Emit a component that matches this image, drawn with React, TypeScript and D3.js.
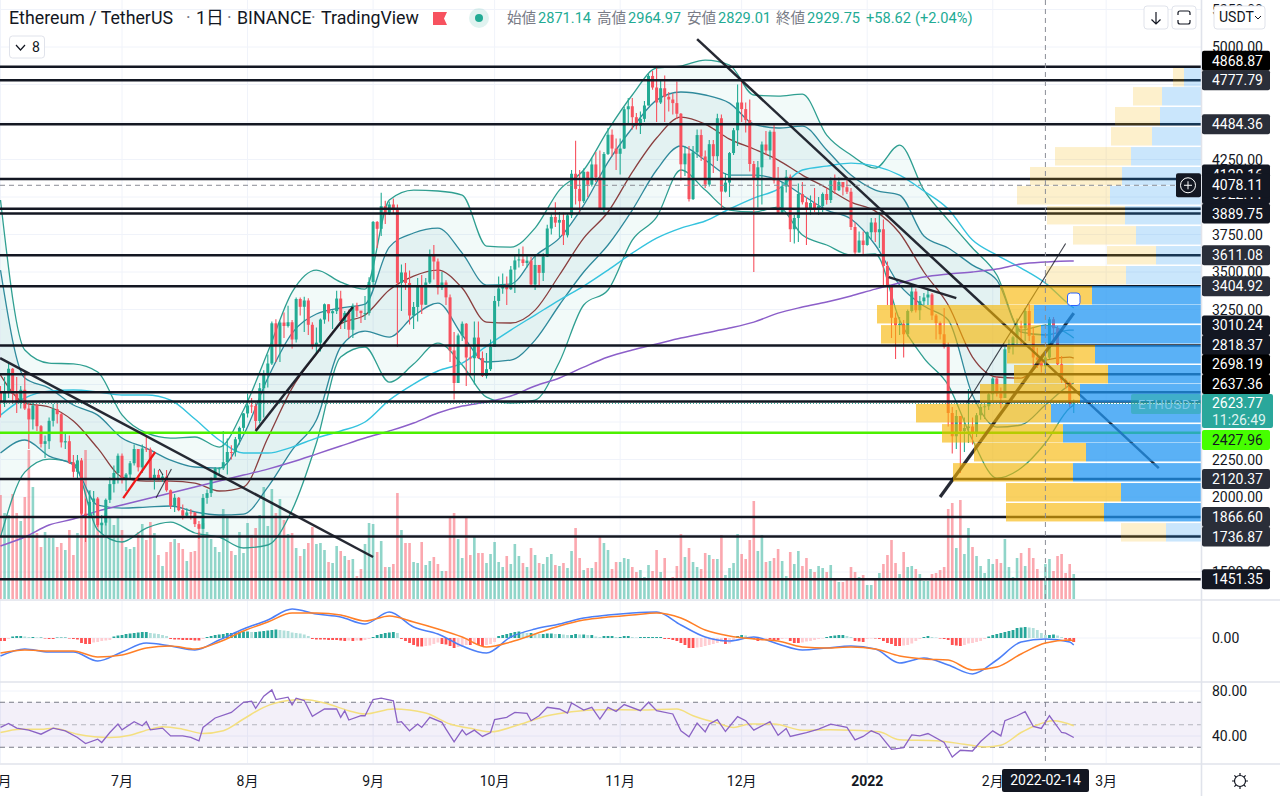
import React from 'react';
import * as d3 from 'd3';

// daily candles, 2021-06-01 .. 2022-02-21
const firstOpen = 2707;
const closes = [
  2634,2706,2855,2688,2630,2715,2590,2517,2610,2472,2354,2372,2508,2586,2552,2364,2372,2231,2168,2244,1889,1875,1968,1990,1812,1829,1981,2086,2160,2275,
  2113,2150,2225,2320,2198,2323,2317,2117,2148,2127,2136,2045,1941,1995,1912,1876,1897,1896,1819,1788,1994,2026,2123,2191,2191,2232,2300,2299,2385,2461,2557,
  2610,2607,2507,2725,2827,2890,3158,3012,3163,3140,3165,3050,3320,3268,3310,3148,3013,3029,3183,3285,3225,3239,3323,3172,3227,3115,3275,3242,3226,3226,3433,
  3834,3788,3939,3886,3950,3927,3427,3497,3427,3210,3267,3408,3282,3430,3613,3570,3395,3430,3331,2977,2760,3077,3155,2930,2925,3063,2926,2807,2852,3001,
  3307,3390,3417,3385,3516,3577,3584,3560,3576,3417,3547,3494,3603,3790,3867,3829,3847,3745,3878,4155,4054,3972,4168,4082,4217,4131,3925,4287,4415,4323,4288,
  4323,4585,4605,4532,4475,4521,4610,4807,4730,4630,4725,4668,4650,4626,4555,4218,4290,3986,4298,4413,4270,4083,4352,4272,4525,4036,4096,4293,4445,4630,
  4586,4513,4220,4120,4198,4350,4310,4435,4110,3895,4070,4135,3785,3860,4020,3965,3925,3960,3925,3940,4020,3980,4110,4045,4100,4065,4035,3800,3630,3710,3680,
  3765,3830,3765,3785,3540,3410,3195,3145,3155,3085,3240,3370,3245,3305,3330,3350,3210,3160,3085,3000,2560,2405,2540,2440,2460,2470,2425,2545,2600,2605,2685,
  2790,2690,2660,2985,3010,3065,3140,3125,3240,3075,2930,2915,2871.14,2929.75,3185,3125,2885,2780,2760,2620,2623.77,
];
const highs = [
  2740,2800,2890,2860,2800,2740,2840,2620,2630,2620,2480,2410,2530,2620,2630,2560,2420,2410,2280,2280,2260,1990,2040,2040,2000,1880,1990,2130,2210,2290,
  2290,2160,2240,2350,2320,2350,2410,2330,2190,2180,2155,2180,2050,2020,2000,1950,1925,1920,1900,1840,2020,2050,2130,2200,2200,2440,2390,2345,2400,2470,2560,
  2690,2660,2630,2760,2845,2950,3170,3185,3175,3230,3275,3180,3330,3330,3335,3325,3165,3130,3190,3290,3280,3245,3375,3375,3240,3250,3290,3295,3240,3340,3465,
  3840,3840,4028,3975,3970,3990,3950,3550,3560,3510,3300,3460,3480,3460,3650,3680,3590,3500,3445,3350,3100,3090,3170,3160,3000,3170,3170,2970,2960,3050,
  3340,3470,3490,3470,3540,3620,3655,3670,3620,3600,3620,3545,3625,3815,3895,3965,3900,3895,3890,4180,4375,4180,4190,4170,4260,4300,4310,4300,4460,4450,4390,
  4390,4600,4660,4660,4560,4570,4640,4820,4840,4868,4780,4810,4700,4690,4770,4560,4340,4340,4340,4450,4450,4310,4380,4380,4555,4550,4160,4300,4460,4750,
  4780,4630,4650,4240,4240,4370,4440,4445,4490,4200,4100,4180,4150,3880,4090,4100,4000,4010,4060,4000,4030,4060,4130,4150,4130,4100,4130,4060,3830,3770,3770,
  3770,3860,3860,3900,3850,3570,3410,3230,3200,3180,3250,3410,3390,3340,3360,3380,3360,3220,3170,3260,3030,2600,2580,2520,2530,2720,2530,2560,2620,2620,2700,
  2800,2805,2730,3000,3050,3075,3190,3175,3260,3285,3135,2995,2950,2964.97,3200,3200,3140,2940,2790,2770,2650,
];
const lows = [
  2530,2600,2660,2620,2560,2590,2580,2320,2450,2440,2330,2260,2320,2470,2490,2330,2320,2220,2130,2120,1880,1700,1860,1880,1800,1760,1810,1960,2030,2090,
  2090,2040,2120,2210,2170,2160,2300,2110,2050,2110,2100,2035,1920,1900,1905,1850,1860,1850,1800,1720,1790,1955,2000,2120,2145,2180,2150,2250,2270,2350,2440,
  2530,2560,2450,2490,2530,2730,2880,2900,2900,3060,3130,2990,3030,3210,3100,3080,2985,2955,2970,3155,3170,3120,3220,3120,3120,3060,3060,3200,3160,3180,3210,
  3385,3660,3740,3820,3880,3890,3000,3240,3380,3150,3120,3170,3220,3280,3420,3450,3350,3380,3280,2900,2650,2760,3040,2740,2820,2750,2920,2800,2790,2840,
  3000,3270,3355,3280,3380,3360,3530,3540,3530,3410,3380,3400,3440,3600,3750,3800,3730,3680,3730,3860,3950,3890,3960,4000,4070,4100,3915,3900,4280,4270,4180,
  4150,4320,4480,4450,4450,4420,4500,4610,4715,4500,4620,4500,4570,4550,4520,4110,4140,3970,3980,4260,4240,4060,4070,4160,4240,3920,4030,4000,4280,4340,
  4500,4430,4170,3500,3930,3950,4280,4250,4090,3890,3910,4030,3700,3690,3700,3950,3680,3880,3900,3880,3900,3950,3960,4020,4040,4010,4020,3780,3610,3630,3620,
  3675,3720,3700,3660,3410,3280,3060,2920,3080,2930,3070,3230,3230,3180,3280,3280,3180,3050,3050,2990,2470,2290,2320,2160,2300,2360,2350,2400,2515,2520,2580,
  2640,2670,2590,2660,2960,2950,3020,3020,3040,3040,2860,2860,2830,2829.01,2920,3050,2880,2760,2720,2600,2560,
];
const volumes = [
  104,86,84,105,86,78,102,149,112,66,52,67,61,61,52,56,49,69,44,66,92,149,109,99,95,76,86,81,74,81,
  69,52,50,52,67,75,59,77,66,44,33,47,57,60,56,50,38,47,48,67,76,67,60,52,47,90,81,48,44,67,46,
  76,64,71,84,112,73,110,86,100,79,65,66,51,43,50,56,72,55,56,49,37,36,53,48,43,39,40,23,30,55,76,
  75,47,58,32,32,35,106,69,56,56,37,36,57,34,38,42,35,28,28,81,86,60,41,82,44,62,46,46,36,45,
  57,37,32,43,35,55,43,36,32,51,44,36,35,42,45,34,33,36,31,48,71,41,29,31,31,37,62,56,49,30,37,
  37,41,40,32,27,29,22,34,28,49,27,41,20,22,33,65,42,51,37,32,30,46,44,40,40,64,24,31,36,65,
  45,40,59,98,48,64,37,38,41,50,38,23,47,35,48,33,41,30,27,33,31,27,34,21,17,17,20,32,27,22,24,
  14,14,21,26,35,44,59,36,25,47,32,33,30,25,18,18,25,26,29,32,90,96,51,99,45,71,52,43,33,26,40,
  35,40,36,60,32,22,41,46,33,51,41,30,20,35,40,28,43,45,26,35,25,
];

// sampled every 6 days for the smooth overlays
const lineDays = [0,6,12,18,24,30,36,42,48,54,60,66,72,78,84,90,96,102,108,114,120,126,132,138,144,150,156,162,168,174,180,186,192,198,204,210,216,222,228,234,240,246,252,258,264,265];
const bbOuterUpper = [3980,2980,2893,2887,2833,2547,2427,2393,2400,2333,2580,2967,3366,3513,3433,3386,3980,4046,4040,4013,3673,3666,3793,4046,4180,4446,4680,4860,4873,4913,4880,4680,4673,4686,4413,4280,4193,4346,4046,3846,3660,3480,3113,3146,3080,3060];
const bbInnerUpper = [3513,2793,2726,2613,2546,2393,2326,2246,2200,2193,2413,2793,3093,3220,3260,3286,3666,3760,3793,3626,3413,3420,3606,3726,3946,4233,4460,4646,4700,4680,4626,4486,4460,4473,4313,4146,4046,4013,3740,3660,3546,3446,3100,3080,3113,3113];
const bbMiddle = [2813,2626,2600,2506,2326,2133,2106,2106,2093,2040,2066,2393,2726,2953,3153,3213,3380,3473,3513,3393,3166,3160,3246,3480,3726,3900,4166,4393,4533,4486,4386,4320,4246,4146,4060,3966,3906,3760,3500,3280,2933,2800,2793,2913,2933,2926];
const bbInnerLower = [2293,2380,2273,2213,1946,1926,1933,1940,1900,1880,1886,2066,2313,2513,3000,3106,3066,3206,3293,3080,2900,2913,3046,3280,3500,3680,3913,4180,4340,4246,4146,4146,4113,4013,3913,3853,3680,3413,3273,3180,2680,2466,2480,2613,2746,2760];
const bbOuterLower = [1733,2166,2253,2226,1780,1700,1793,1833,1760,1733,1660,1680,1913,2360,2933,3000,2766,2886,3026,2880,2666,2626,2646,2900,3280,3380,3713,3866,4180,4046,3913,3900,3933,3746,3680,3613,3620,3180,2926,2746,2380,2126,2193,2360,2593,2613];
const ma100 = [2546,2660,2706,2713,2700,2680,2680,2646,2520,2380,2293,2293,2333,2393,2440,2500,2646,2753,2840,2893,3006,3113,3213,3313,3406,3513,3626,3726,3793,3840,3920,3993,4053,4180,4206,4226,4206,4146,4040,3920,3713,3613,3526,3426,3280,3260];
const ma200 = [1673,1733,1813,1853,1906,1946,1986,2026,2066,2106,2146,2186,2233,2286,2340,2393,2440,2493,2560,2606,2633,2673,2740,2793,2866,2933,2980,3020,3060,3093,3126,3166,3226,3266,3300,3340,3386,3426,3466,3486,3500,3520,3553,3566,3573,3573];
const macdLine = [-144,-88,-112,-112,-184,-112,-40,-64,-96,-16,72,144,232,192,168,112,208,88,32,-64,-120,8,72,112,160,184,200,208,104,8,-24,8,-48,-96,-80,-64,-88,-200,-160,-216,-288,-176,-32,-8,-32,-56];
const macdSignal = [-120,-96,-104,-104,-152,-136,-80,-64,-88,-32,56,128,200,200,184,136,176,128,72,8,-72,-32,32,96,144,168,184,200,160,64,16,-8,-24,-72,-80,-72,-88,-144,-168,-176,-256,-232,-128,-40,-16,-24];

// histogram, one bar a day, in units of 8 USDT
const HIST_UNIT = 8;
const macdHist = [
  -3,-3,-1,1.5,2,2,1.5,1,1,0.5,0.5,-0.5,-1,-1,0.5,0.5,0.5,-0.5,-1,-1.5,-5,-6,-6,-4.5,-4,-3,-2.5,-2,1.5,2.5,
  3,4,4.5,5,5.5,6,6,5,4.5,4,3,2,-1,-1.5,-1.5,-2,-2,-2,-2.5,-2.5,-1,1,2,3,3.5,4,5,5,5.5,6,6.5,
  6.5,6,6,6.5,7,7.5,8,8.5,8,7.5,7,5.5,5,4.5,3.5,2,-1,-1.5,-1.5,-1.5,-2,-2,-2,-2.5,-3,-2.5,-3,-2.5,-2.5,-2,-1,
  1,3,4,5,5.5,6,5,-1,-3,-5,-7,-8.5,-8.5,-8,-7.5,-6,-4.5,-6,-6.5,-8,-10,-9,-8,-7,-7,-6,-7,-8,-7,-6,
  -4,2,3,4,5,6,6.5,6,5,5,4.5,4,4,4.5,4.5,4,4,3.5,3,3,4,3.5,3.5,3,3,1.5,1,2,2,2,1,
  1,2,2,1,0.5,1,1,1,1,1,1,-1,-1,-2,-3,-5,-7,-10,-10,-9.5,-9,-8,-7,-6,-5,-4,-6,-5.5,-3,2,
  3,2.5,1,-1,-3,-2.5,-1.5,-1.5,-2,-2,-1,-0.5,-3,-5,-5,-4.5,-3.5,-3,-2,-1,-0.5,1,2,2.5,3,3,2,1,-3,-3.5,-4,
  -1,-0.5,-0.5,-1,-3,-5,-6,-8,-8,-7.5,-7,-5.5,-3,-1,1,2,1,0.5,-0.5,-1,-2,-7,-7.5,-8,-7,-5.5,-5,-4,-3,-1,1.5,
  3,4,5,6,7,8,10,10.5,11,10.5,10,8,5,3,3,3.5,2.5,1,-1.5,-3,-4,
];

// RSI and its average, read at the turning points
const rsiDays = [0,2,4,7,10,13,16,19,21,24,25,27,29,30,33,35,36,37,40,42,45,47,49,50,53,57,60,62,63,65,67,68,71,72,73,75,77,80,83,84,85,86,89,90,92,94,97,98,99,101,103,104,106,109,110,112,114,115,117,119,121,122,125,127,130,131,133,135,138,140,141,144,146,148,150,152,154,158,160,162,166,168,170,172,174,175,177,179,182,184,186,190,192,194,195,199,202,205,209,211,213,215,217,220,223,225,227,229,233,235,237,240,242,245,247,248,251,253,255,257,259,262,263,265];
const rsiValues = [47.6,51.2,47,45.2,41.6,47,44.6,38.7,33.3,37.2,34.2,43.1,50.6,45.5,52.7,49.1,52.7,45.5,47,40.1,40.1,38.7,35.7,47.6,56,61,70,70.9,64.6,75.4,81,72.4,74.5,67.6,73.6,71.5,57.5,64,64,56.6,62.5,54.2,58,58,72.4,73.6,71.2,52.1,52.7,44.6,50.6,47.6,56.6,52.1,46.1,34.8,45.5,41,45.2,39.6,43.1,54.5,56.6,61,60.1,53.6,58,65.5,64,60.4,69.4,63.1,65.5,55.1,65.5,61.9,67.9,62.5,70,62.5,59.6,44.6,39.3,51.5,43.7,50.6,54.5,44,57.2,53.6,45.2,52.7,40.7,46.7,39.6,43.1,46.1,50.6,47.6,36.6,39.6,44.6,41.6,28.2,29.7,41,40.1,42.2,34.2,21.3,27.3,26.7,35.1,44.6,40.1,53.6,58,61.6,48.5,46.7,58,43.1,42.5,38.7];
const rsiMaDays = [0,5,10,13,19,27,32,37,40,45,50,55,60,65,71,75,80,86,90,97,105,111,117,121,128,135,141,148,158,167,171,177,181,185,191,198,205,210,217,222,231,238,243,247,252,255,260,265];
const rsiMaValues = [43.1,46.1,46.1,47,41.6,38.7,40.7,46.1,48.2,46.1,42.2,44.6,55.1,65.5,71.5,72.4,69.4,62.5,59.6,64,60.4,50.6,46.1,43.7,50,58,61.6,63.4,63.1,64,58,51.5,47.6,50.6,50.6,45.2,45.5,45.2,43.7,36.6,35.7,32.7,30.3,31.8,43.1,48.5,53.6,49.1];

// horizontal levels drawn by the author
const levels = [4868.87,4777.79,4484.36,4120.16,3922.11,3889.75,3611.08,3404.92,3010.24,2818.37,2698.19,2637.36,2120.37,1866.60,1736.87,1451.35];
const greenLevel = 2427.96;
const lastPrice = 2623.77;
const crossPrice = 4078.11;
const crossDay = 258;

const priceTicks = [5250,5000,4750,4500,4250,4000,3750,3500,3250,3000,2750,2500,2250,2000,1750,1500];
const coveredTicks = [4750,4500,4000,3000,2750,2500,1750];
const monthDays = [0,30,61,92,122,153,183,214,245,273];
const monthNames = ['6月','7月','8月','9月','10月','11月','12月','2022','2月','3月'];

// visible range volume rows
const vpTops = [4860,4733,4600,4466,4333,4200,4073,3940,3806,3673,3540,3406,3280,3146,3013,2880,2753,2620,2486,2360,2226,2093,1960,1826];
const vpDown = [11,29,45,41,76,92,93,78,63,49,80,92,157,160,88,94,100,135,121,112,120,115,98,45];
const vpUp = [17,39,41,49,70,79,91,76,65,45,75,109,167,160,106,93,121,150,138,115,128,80,97,35];
const VP_ROW = 123;
const vpSolid = (i: number) => i >= 11 && i <= 22;

// trend lines: [day, price, day, price]
const blackTrends = [
  [-0.1, 2926, 92, 1600],
  [172, 5053, 286, 2193],
  [63, 2440, 87, 3266],
  [232, 2000, 265, 3226],
  [219.3, 3466, 236, 3326],
];
const thinTrends = [
  [238.6, 2627, 263, 3690],
  [38.4, 1993, 42.2, 2187],
  [39.2, 2187, 40.1, 2147],
];
const redTrend = [30.3, 1993, 38.2, 2300];

const UP = '#22ab94';
const DOWN = '#f7525f';
const FONT = 'Roboto, "Noto Sans CJK JP", sans-serif';

const App: React.FC = () => {
  const chartRight = 1201;
  const x = d3.scaleLinear().domain([0, 265]).range([0.5, 1073.75]);
  const y = d3.scaleLinear().domain([1000, 5000]).range([647, 47]);
  const volY = d3.scaleLinear().domain([0, 150]).range([599, 449]);
  const macdY = d3.scaleLinear().domain([-300, 300]).range([675.5, 600.5]);
  const rsiY = d3.scaleLinear().domain([30, 80]).range([747.25, 691]);
  const vpX = d3.scaleLinear().domain([0, 330]).range([0, 330]);

  const opens = closes.map((_, i) => (i === 0 ? firstOpen : closes[i - 1]));

  const priceLine = (vals: number[]) =>
    d3.line<number>().x((_, i) => x(lineDays[i])).y(d => y(d)).curve(d3.curveMonotoneX)(vals) || '';
  const macdPath = (vals: number[]) =>
    d3.line<number>().x((_, i) => x(lineDays[i])).y(d => macdY(d)).curve(d3.curveMonotoneX)(vals) || '';
  const band = (top: number[], bottom: number[]) =>
    d3.area<number>().x((_, i) => x(lineDays[i])).y0((_, i) => y(bottom[i])).y1(d => y(d)).curve(d3.curveMonotoneX)(top) || '';
  const rsiPath = d3.line<number>().x((_, i) => x(rsiDays[i])).y(d => rsiY(d))(rsiValues) || '';
  const rsiMaPath = d3.line<number>().x((_, i) => x(rsiMaDays[i])).y(d => rsiY(d)).curve(d3.curveMonotoneX)(rsiMaValues) || '';

  // price labels get pushed apart around the live price box, the way the platform stacks them
  const labelY = new Map<number, number>();
  const LABEL_H = 19.5;
  let upper = y(lastPrice);
  levels.filter(l => l > lastPrice).sort(d3.ascending).forEach(l => {
    upper = Math.min(y(l), upper - LABEL_H);
    labelY.set(l, upper);
  });
  let lower = y(lastPrice) + 17;
  [greenLevel, ...levels.filter(l => l < lastPrice)].sort(d3.descending).forEach(l => {
    lower = Math.max(y(l), lower + LABEL_H);
    labelY.set(l, lower);
  });
  const lightLabels = new Set([4777.79, 4484.36, 3611.08, 3404.92, 2120.37, 1736.87, 1866.60]);
  const blackLabels = new Set([4868.87, 2698.19, 2637.36]);

  const histColor = (i: number) => {
    const v = macdHist[i];
    const prev = i ? macdHist[i - 1] : v;
    if (v >= 0) return prev <= v ? '#26a69a' : '#b2dfdb';
    return prev < v ? '#ffcdd2' : '#ff5252';
  };

  const trendLine = (t: number[], stroke: string, w: number, key: string, op = 1) => (
    <line key={key} x1={x(t[0])} y1={y(t[1])} x2={x(t[2])} y2={y(t[3])} stroke={stroke} strokeWidth={w} strokeOpacity={op} />
  );

  return (
    <svg width={1280} height={796} style={{ position: 'absolute', left: 0, top: 0, background: '#fff', fontFamily: FONT }}>
      {/* grid */}
      <g stroke="#f0f3fa" strokeWidth={1}>
        {monthDays.map(d => <line key={d} x1={x(d)} x2={x(d)} y1={0} y2={763} />)}
        {priceTicks.map(p => <line key={p} x1={0} x2={chartRight} y1={y(p)} y2={y(p)} />)}
        <line x1={0} x2={chartRight} y1={macdY(0)} y2={macdY(0)} />
        <line x1={0} x2={chartRight} y1={rsiY(80)} y2={rsiY(80)} />
        <line x1={0} x2={chartRight} y1={rsiY(40)} y2={rsiY(40)} />
      </g>

      {/* bollinger bands */}
      <path d={band(bbOuterUpper, bbOuterLower)} fill="#26a69a" fillOpacity={0.06} />
      <path d={band(bbInnerUpper, bbInnerLower)} fill="#2a8a9a" fillOpacity={0.07} />

      {/* volume */}
      <g fillOpacity={0.5}>
        {volumes.map((v, i) => (
          <rect key={i} x={x(i) - 1.3} width={2.6} y={volY(v)} height={volY(0) - volY(v)} fill={closes[i] >= opens[i] ? UP : DOWN} />
        ))}
      </g>

      <g fill="none">
        <path d={priceLine(bbOuterUpper)} stroke="#2f9f91" strokeWidth={1.3} />
        <path d={priceLine(bbOuterLower)} stroke="#2f9f91" strokeWidth={1.3} />
        <path d={priceLine(bbInnerUpper)} stroke="#2f8a9c" strokeWidth={1.3} />
        <path d={priceLine(bbInnerLower)} stroke="#2f8a9c" strokeWidth={1.3} />
        <path d={priceLine(bbMiddle)} stroke="#8a3f3f" strokeWidth={1.3} />
        <path d={priceLine(ma100)} stroke="#35c3de" strokeWidth={1.4} />
        <path d={priceLine(ma200)} stroke="#8c5fc9" strokeWidth={1.5} />
      </g>

      {/* candles */}
      {closes.map((c, i) => {
        const o = opens[i];
        const col = c >= o ? UP : DOWN;
        const top = y(Math.max(o, c));
        const bottom = y(Math.min(o, c));
        return (
          <g key={i} fill={col} stroke={col}>
            <line x1={x(i)} x2={x(i)} y1={y(Math.max(highs[i], o, c))} y2={y(Math.min(lows[i], o, c))} strokeWidth={1.1} />
            <rect x={x(i) - 1.5} width={3} y={top} height={Math.max(bottom - top, 1)} stroke="none" />
          </g>
        );
      })}

      {/* horizontal levels */}
      <g stroke="#131722" strokeWidth={2.5}>
        {levels.map(l => <line key={l} x1={0} x2={chartRight} y1={y(l)} y2={y(l)} />)}
      </g>
      <line x1={0} x2={chartRight} y1={y(greenLevel)} y2={y(greenLevel)} stroke="#4cf000" strokeWidth={2.6} />
      <line x1={0} x2={chartRight} y1={y(lastPrice)} y2={y(lastPrice)} stroke={UP} strokeWidth={1} strokeDasharray="1 2" />

      {/* trend lines */}
      {blackTrends.map((t, i) => trendLine(t, '#131722', i === 3 ? 3.2 : 2.5, 'b' + i, 0.92))}
      {thinTrends.map((t, i) => trendLine(t, '#131722', 1.1, 't' + i, 0.8))}
      {trendLine(redTrend, '#f01818', 2.2, 'red')}

      {/* volume profile */}
      {vpTops.map((top, i) => {
        const h = y(top - VP_ROW) - y(top);
        const upW = vpX(vpUp[i]);
        const downW = vpX(vpDown[i]);
        const solid = vpSolid(i);
        return (
          <g key={top}>
            <rect x={chartRight - upW} width={upW} y={y(top)} height={h} fill="#2196f3" fillOpacity={solid ? 0.74 : 0.24} />
            <rect x={chartRight - upW - downW} width={downW} y={y(top)} height={h} fill="#f7b500" fillOpacity={solid ? 0.62 : 0.2} />
          </g>
        );
      })}

      {/* crosshair */}
      <g stroke="#8a8d96" strokeWidth={1} strokeDasharray="5 4">
        <line x1={x(crossDay)} x2={x(crossDay)} y1={0} y2={764} />
        <line x1={0} x2={chartRight} y1={y(crossPrice)} y2={y(crossPrice)} />
      </g>

      {/* flag on the last bar */}
      <rect x={1067.5} y={293} width={12.5} height={12.5} rx={3} fill="#fff" stroke="#2962ff" strokeWidth={1} />

      {/* macd */}
      <g>
        {macdHist.map((v, i) => {
          const a = macdY(v * HIST_UNIT);
          const b = macdY(0);
          return <rect key={i} x={x(i) - 1.4} width={2.8} y={Math.min(a, b)} height={Math.abs(a - b)} fill={histColor(i)} />;
        })}
      </g>
      <path d={macdPath(macdLine)} fill="none" stroke="#4c7ff7" strokeWidth={1.5} />
      <path d={macdPath(macdSignal)} fill="none" stroke="#ff7f27" strokeWidth={1.5} />

      {/* rsi */}
      <rect x={0} y={rsiY(70)} width={chartRight} height={rsiY(30) - rsiY(70)} fill="#7e57c2" fillOpacity={0.09} />
      <g stroke="#787b86" strokeWidth={1} strokeDasharray="5 4">
        <line x1={0} x2={chartRight} y1={rsiY(70)} y2={rsiY(70)} />
        <line x1={0} x2={chartRight} y1={rsiY(50)} y2={rsiY(50)} strokeOpacity={0.5} />
        <line x1={0} x2={chartRight} y1={rsiY(30)} y2={rsiY(30)} />
      </g>
      <path d={rsiMaPath} fill="none" stroke="#f4df7f" strokeWidth={1.5} />
      <path d={rsiPath} fill="none" stroke="#8b63c5" strokeWidth={1.3} />

      {/* pane borders */}
      <g stroke="#e0e3eb" strokeWidth={1.6}>
        <line x1={0} x2={1280} y1={600} y2={600} />
        <line x1={0} x2={1280} y1={682} y2={682} />
        <line x1={0} x2={1280} y1={764} y2={764} />
        <line x1={chartRight + 0.5} x2={chartRight + 0.5} y1={0} y2={796} />
      </g>

      {/* price axis */}
      <g fontSize={14} fill="#131722">
        {priceTicks.filter(p => !coveredTicks.includes(p)).map(p => <text key={p} x={1212} y={y(p) + 5}>{d3.format('.2f')(p)}</text>)}
        <text x={1212} y={macdY(0) + 5}>0.00</text>
        <text x={1212} y={rsiY(80) + 5}>80.00</text>
        <text x={1212} y={rsiY(40) + 5}>40.00</text>
      </g>
      {levels.map(l => {
        const ly = labelY.get(l) as number;
        const fill = blackLabels.has(l) ? '#000' : lightLabels.has(l) ? '#2a2e39' : '#131722';
        return (
          <g key={l}>
            <rect x={1202} y={ly - 10} width={68} height={20} rx={2} fill={fill} />
            <text x={1212} y={ly + 5} fontSize={14} fill="#fff">{d3.format('.2f')(l)}</text>
          </g>
        );
      })}
      <rect x={1202} y={(labelY.get(greenLevel) as number) - 10} width={68} height={20} rx={2} fill="#46ff00" />
      <text x={1212} y={(labelY.get(greenLevel) as number) + 5} fontSize={14} fill="#131722">{greenLevel.toFixed(2)}</text>

      <rect x={1131} y={394} width={70} height={20} rx={2} fill="#22ab94" fillOpacity={0.45} />
      <text x={1138} y={409} fontSize={13} fill="#7fc8e8" letterSpacing={0.6}>ETHUSDT</text>
      <rect x={1202} y={394} width={71} height={34} rx={2} fill="#2aa79b" />
      <text x={1212} y={408} fontSize={14} fill="#fff">{lastPrice.toFixed(2)}</text>
      <text x={1212} y={425} fontSize={14} fill="#dff3f0">11:26:49</text>

      <rect x={1202} y={y(crossPrice) - 12} width={68} height={24} rx={2} fill="#131722" />
      <text x={1212} y={y(crossPrice) + 5} fontSize={14} fill="#fff">{crossPrice.toFixed(2)}</text>
      <rect x={1176} y={y(crossPrice) - 12} width={25} height={24} rx={2} fill="#131722" />
      <circle cx={1188} cy={y(crossPrice)} r={7.5} fill="none" stroke="#fff" strokeWidth={1} />
      <path d={`M1184 ${y(crossPrice)}H1192M1188 ${y(crossPrice) - 4}V${y(crossPrice) + 4}`} stroke="#fff" strokeWidth={1} />

      {/* time axis */}
      <g fontSize={14} fill="#131722" textAnchor="middle">
        {monthNames.map((m, i) => (
          <text key={m} x={x(monthDays[i])} y={786} fontWeight={m === '2022' ? 700 : 400}>{m}</text>
        ))}
      </g>
      <rect x={1002} y={769} width={87} height={23} rx={2} fill="#131722" />
      <text x={1045.5} y={785} fontSize={14} fill="#fff" textAnchor="middle">2022-02-14</text>
      <g stroke="#131722" strokeWidth={1.2} fill="none">
        <circle cx={1240} cy={781} r={5.5} />
        <path d="M1240 773V775.5M1240 786.5V789M1232 781H1234.5M1245.5 781H1248M1234.4 775.4L1236.1 777.1M1243.9 784.9L1245.6 786.6M1245.6 775.4L1243.9 777.1M1236.1 784.9L1234.4 786.6" />
      </g>

      {/* header */}
      <text x={9} y={24} fontSize={17.8} fill="#131722">Ethereum / TetherUS</text>
      <text x={186} y={24} fontSize={17.8} fill="#787b86">·</text>
      <text x={196} y={24} fontSize={17.8} fill="#131722">1日</text>
      <text x={227} y={24} fontSize={17.8} fill="#787b86">·</text>
      <text x={237} y={24} fontSize={17.8} fill="#131722">BINANCE</text>
      <text x={311} y={24} fontSize={17.8} fill="#787b86">·</text>
      <text x={321} y={24} fontSize={17.8} fill="#131722">TradingView</text>
      <path d="M433 12H447L444 18.5L447 25H433Z" fill="#f7525f" />
      <circle cx={479} cy={18} r={10} fill="#22ab94" fillOpacity={0.14} />
      <circle cx={479} cy={18} r={4} fill="#22ab94" />
      <g fontSize={14.6}>
        <text x={507} y={23} fill="#787b86">始値</text>
        <text x={538} y={23} fill={UP}>2871.14</text>
        <text x={597} y={23} fill="#787b86">高値</text>
        <text x={628} y={23} fill={UP}>2964.97</text>
        <text x={687} y={23} fill="#787b86">安値</text>
        <text x={718} y={23} fill={UP}>2829.01</text>
        <text x={776} y={23} fill="#787b86">終値</text>
        <text x={807} y={23} fill={UP}>2929.75</text>
        <text x={866} y={23} fill={UP}>+58.62</text>
        <text x={915} y={23} fill={UP}>(+2.04%)</text>
      </g>
      <rect x={9.5} y={36} width={35} height={22} rx={3} fill="#fff" stroke="#e0e3eb" />
      <path d="M16 45L20.5 50L25 45" fill="none" stroke="#131722" strokeWidth={1.2} />
      <text x={32} y={52} fontSize={14} fill="#131722">8</text>

      {/* top right buttons */}
      <g fill="#fff" stroke="#e0e3eb">
        <rect x={1144} y={6} width={24} height={23} rx={3} />
        <rect x={1172} y={6} width={24} height={23} rx={3} />
        <rect x={1214} y={6} width={51} height={23} rx={3} />
      </g>
      <path d="M1156 12V24M1151.5 19.5L1156 24L1160.5 19.5" fill="none" stroke="#131722" strokeWidth={1.2} />
      <path d="M1178 15V13Q1178 11 1180 11H1188Q1190 11 1190 13V15M1178 20V22Q1178 24 1180 24H1188Q1190 24 1190 22V20" fill="none" stroke="#131722" strokeWidth={1.2} />
      <text x={1219} y={22} fontSize={14} fill="#131722">USDT</text>
      <path d="M1255 16L1258 19L1261 16" fill="none" stroke="#131722" strokeWidth={1} />
    </svg>
  );
};

export default App;
